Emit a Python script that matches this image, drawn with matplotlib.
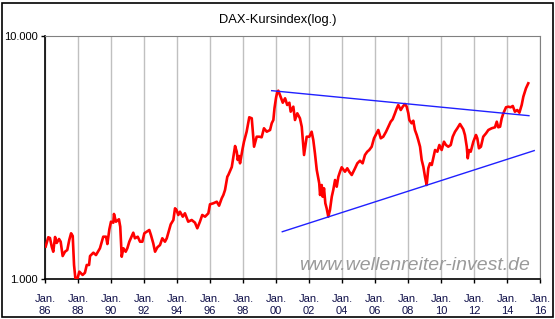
import numpy as np
import matplotlib.pyplot as plt
from matplotlib.ticker import FixedLocator, NullLocator, FixedFormatter

plt.rcParams['font.family'] = ['Liberation Sans', 'DejaVu Sans']

# DAX Kursindex (decimal year, index points)
years = [
    1986.04, 1986.20, 1986.30, 1986.41, 1986.50, 1986.61, 1986.71, 1986.85, 1986.95, 1987.07,
    1987.21, 1987.35, 1987.47, 1987.58, 1987.68, 1987.76, 1987.84, 1987.96, 1988.08, 1988.28,
    1988.42, 1988.53, 1988.67, 1988.73, 1988.93, 1989.09, 1989.33, 1989.53, 1989.70, 1989.78,
    1989.90, 1990.00, 1990.14, 1990.18, 1990.30, 1990.48, 1990.56, 1990.65, 1990.75, 1990.89,
    1990.99, 1991.11, 1991.35, 1991.45, 1991.62, 1991.76, 1991.90, 1992.02, 1992.16, 1992.32,
    1992.42, 1992.56, 1992.67, 1992.81, 1992.97, 1993.11, 1993.27, 1993.38, 1993.52, 1993.62,
    1993.78, 1993.88, 1993.97, 1994.08, 1994.18, 1994.35, 1994.48, 1994.68, 1994.89, 1995.09,
    1995.23, 1995.39, 1995.53, 1995.70, 1995.90, 1996.00, 1996.20, 1996.41, 1996.55, 1996.71,
    1996.81, 1996.91, 1997.05, 1997.11, 1997.32, 1997.52, 1997.62, 1997.68, 1997.76, 1997.82,
    1997.98, 1998.06, 1998.22, 1998.38, 1998.53, 1998.59, 1998.67, 1998.83, 1998.99, 1999.13,
    1999.27, 1999.44, 1999.64, 1999.74, 1999.84, 1999.91, 2000.00, 2000.08, 2000.14, 2000.24,
    2000.41, 2000.55, 2000.68, 2000.81, 2000.89, 2001.05, 2001.15, 2001.29, 2001.45, 2001.56,
    2001.65, 2001.70, 2001.86, 2002.02, 2002.16, 2002.26, 2002.36, 2002.47, 2002.62, 2002.67,
    2002.77, 2002.83, 2002.91, 2002.99, 2003.07, 2003.17, 2003.27, 2003.38, 2003.47, 2003.58,
    2003.68, 2003.78, 2003.88, 2003.98, 2004.18, 2004.32, 2004.44, 2004.59, 2004.79, 2004.93,
    2005.09, 2005.25, 2005.39, 2005.53, 2005.65, 2005.80, 2005.94, 2006.10, 2006.20, 2006.35,
    2006.50, 2006.67, 2006.81, 2006.95, 2007.07, 2007.21, 2007.32, 2007.41, 2007.56, 2007.68,
    2007.82, 2007.92, 2008.02, 2008.08, 2008.22, 2008.32, 2008.42, 2008.53, 2008.62, 2008.73,
    2008.83, 2008.93, 2009.03, 2009.13, 2009.23, 2009.33, 2009.44, 2009.53, 2009.64, 2009.78,
    2009.90, 2010.04, 2010.18, 2010.30, 2010.44, 2010.59, 2010.71, 2010.85, 2010.99, 2011.15,
    2011.25, 2011.35, 2011.45, 2011.56, 2011.62, 2011.70, 2011.80, 2011.96, 2012.12, 2012.20,
    2012.30, 2012.42, 2012.56, 2012.73, 2012.87, 2013.07, 2013.27, 2013.38, 2013.47, 2013.58,
    2013.68, 2013.78, 2013.94, 2014.08, 2014.22, 2014.35, 2014.48, 2014.62, 2014.75, 2014.89,
    2014.99, 2015.15, 2015.29,
]
dax = [
    1360, 1485, 1475, 1357, 1295, 1489, 1407, 1461, 1424, 1243,
    1295, 1316, 1447, 1542, 1503, 1142, 1007, 1000, 1072, 1039,
    1061, 1142, 1142, 1243, 1283, 1255, 1338, 1493, 1493, 1393,
    1601, 1721, 1705, 1852, 1721, 1761, 1642, 1235, 1338, 1295,
    1338, 1424, 1551, 1471, 1493, 1424, 1424, 1542, 1565, 1591,
    1517, 1403, 1295, 1350, 1380, 1471, 1424, 1471, 1591, 1679,
    1749, 1954, 1923, 1834, 1892, 1805, 1864, 1721, 1749, 1705,
    1617, 1721, 1834, 1805, 1864, 2030, 2049, 2080, 2003, 2148,
    2217, 2324, 2636, 2679, 2890, 3526, 3341, 3089, 3208, 2993,
    3451, 3673, 4038, 4629, 4585, 4104, 3503, 3851, 3851, 3830,
    4171, 4038, 4104, 4373, 4512, 5055, 5557, 5899, 5956, 5718,
    5315, 5542, 5201, 5315, 4881, 5118, 4512, 4807, 4585, 4234,
    3560, 3238, 3851, 3851, 4038, 3733, 3291, 2809, 2477, 2217,
    2437, 2181, 2362, 2049, 1954, 1805, 1923, 2181, 2324, 2555,
    2398, 2636, 2764, 2882, 2764, 2855, 2764, 2679, 2855, 2993,
    3067, 2993, 3238, 3341, 3395, 3503, 3794, 3977, 4104, 3794,
    3851, 4038, 4234, 4439, 4542, 4807, 5041, 5201, 4960, 5118,
    5251, 5118, 4807, 4512, 4373, 4481, 4104, 3914, 3733, 3503,
    3089, 2898, 2636, 2437, 2855, 2993, 2946, 3139, 3395, 3341,
    3560, 3395, 3673, 3560, 3503, 3560, 3851, 4038, 4171, 4344,
    4234, 4131, 3914, 3503, 3139, 3395, 3341, 3673, 3914, 3794,
    3451, 3503, 3851, 3977, 4104, 4171, 4210, 4439, 4210, 4234,
    4585, 4807, 5089, 5118, 5089, 5152, 4881, 4960, 4835, 5201,
    5627, 6093, 6388,
]

# trend lines (start / end)
upper_x = [1999.74, 2015.33]
upper_y = [5957, 4700]
lower_x = [2000.38, 2015.65]
lower_y = [1565, 3376]

tick_years = list(range(1986, 2017, 2))
tick_labels = ['Jan.\n%02d' % (y % 100) for y in tick_years]

fig = plt.figure(figsize=(5.55, 3.19), dpi=100)
ax = fig.add_axes([45 / 555, 1 - 279 / 319, 495 / 555, 243 / 319])

ax.plot(years, dax, color='#ff0000', linewidth=1.9, zorder=3)
ax.plot(upper_x, upper_y, color='#2020ff', linewidth=1.0, zorder=4)
ax.plot(lower_x, lower_y, color='#2020ff', linewidth=1.0, zorder=4)

ax.set_yscale('log')
ax.set_ylim(1000, 10000)
ax.set_xlim(1986, 2016)
ax.yaxis.set_major_locator(FixedLocator([1000, 10000]))
ax.yaxis.set_major_formatter(FixedFormatter(['1.000', '10.000']))
ax.yaxis.set_minor_locator(NullLocator())
ax.set_xticks(tick_years)
ax.set_xticklabels(tick_labels, color='#10104a')
ax.tick_params(axis='both', labelsize=8, length=3, width=1, direction='out', pad=2)
ax.tick_params(axis='x', pad=8)
ax.grid(axis='x', color='#c0c0c0', linewidth=1)
ax.set_axisbelow(True)

for side in ['top', 'right']:
    ax.spines[side].set_color('#808080')
for side in ['left', 'bottom']:
    ax.spines[side].set_color('black')
    ax.spines[side].set_linewidth(1.2)

fig.text(278 / 555, 1 - 20 / 319, 'DAX-Kursindex(log.)', ha='center', va='center', fontsize=9.3)
fig.text(414 / 555, 1 - 265 / 319, 'www.wellenreiter-invest.de',
         ha='center', va='center', fontsize=14,
         style='italic', color='#9a9a9a', zorder=2)

fig.patches.append(plt.Rectangle((2 / 555, 2 / 319), 551 / 555, 314 / 319, transform=fig.transFigure,
                                 fill=False, edgecolor='black', linewidth=1.2))

fig.savefig('out.png', dpi=100)
